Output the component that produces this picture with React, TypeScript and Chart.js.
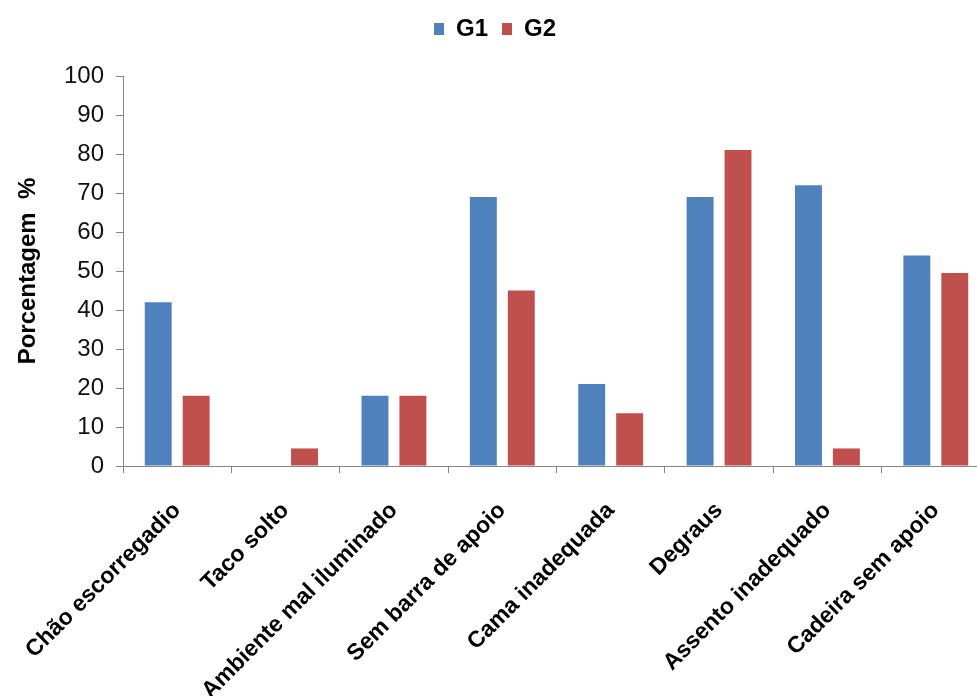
import React, { useEffect, useRef } from "react";
import { Chart, registerables } from "chart.js";

Chart.register(...registerables);

const categories = [
  "Chão escorregadio",
  "Taco solto",
  "Ambiente mal iluminado",
  "Sem barra de apoio",
  "Cama inadequada",
  "Degraus",
  "Assento inadequado",
  "Cadeira sem apoio",
];
const g1Values = [42, 0, 18, 69, 21, 69, 72, 54];
const g2Values = [18, 4.5, 18, 45, 13.5, 81, 4.5, 49.5];
const yTicks = [0, 10, 20, 30, 40, 50, 60, 70, 80, 90, 100];

const BLUE = "#4F81BD";
const RED = "#C0504D";
const AXIS = "#868686";
const FONT = "'Liberation Sans', Arial, Helvetica, sans-serif";

const CANVAS_W = 990;
const CANVAS_H = 696;

// pushes the plot area down below the legend
const legendGap = {
  id: "legendGap",
  beforeInit(chart: any) {
    const legend = chart.legend;
    if (!legend) return;
    const fit = legend.fit;
    legend.fit = function () {
      fit.call(legend);
      legend.height += 25;
    };
  },
};

export default function App() {
  const ref = useRef<HTMLCanvasElement | null>(null);

  useEffect(() => {
    if (!ref.current) return;
    const chart = new Chart(ref.current, {
      type: "bar",
      data: {
        labels: categories,
        datasets: [
          { label: "G1", data: g1Values, backgroundColor: BLUE, borderWidth: 0 },
          { label: "G2", data: g2Values, backgroundColor: RED, borderWidth: 0 },
        ],
      },
      plugins: [legendGap],
      options: {
        responsive: false,
        animation: false,
        devicePixelRatio: 1,
        layout: { padding: { top: 3 } },
        datasets: {
          bar: { categoryPercentage: 0.7, barPercentage: 0.71 },
        },
        plugins: {
          tooltip: { enabled: false },
          legend: {
            position: "top",
            labels: {
              boxWidth: 10,
              boxHeight: 12,
              padding: 14,
              color: "#000",
              font: { family: FONT, size: 24, weight: "bold" },
            },
          },
        },
        scales: {
          x: {
            grid: {
              offset: true,
              drawOnChartArea: false,
              drawTicks: true,
              tickLength: 7,
              color: AXIS,
            },
            border: { color: AXIS, width: 1 },
            ticks: {
              maxRotation: 45,
              minRotation: 45,
              padding: 24,
              color: "#000",
              font: { family: FONT, size: 23, weight: "bold" },
            },
            afterFit(scale: any) {
              scale.height = 230;
              scale.paddingLeft = 0;
              scale.paddingRight = 0;
            },
          },
          y: {
            min: 0,
            max: 100,
            afterBuildTicks(scale: any) {
              scale.ticks = yTicks.map((v) => ({ value: v }));
            },
            grid: {
              drawOnChartArea: false,
              drawTicks: true,
              tickLength: 7,
              color: AXIS,
            },
            border: { color: AXIS, width: 1 },
            ticks: {
              padding: 12,
              color: "#111",
              font: { family: FONT, size: 24 },
            },
            title: {
              display: true,
              text: "Porcentagem  %",
              color: "#000",
              padding: { top: 14, bottom: 0 },
              font: { family: FONT, size: 24, weight: "bold" },
            },
            afterFit(scale: any) {
              scale.width = 123;
              scale.paddingTop = 0;
              scale.paddingBottom = 0;
            },
          },
        },
      },
    });
    return () => chart.destroy();
  }, []);

  return (
    <div
      style={{
        position: "fixed",
        left: 0,
        top: 0,
        width: 977,
        height: 696,
        overflow: "hidden",
        background: "#fff",
      }}
    >
      <canvas
        ref={ref}
        width={CANVAS_W}
        height={CANVAS_H}
        style={{ display: "block", width: CANVAS_W, height: CANVAS_H }}
      />
    </div>
  );
}
